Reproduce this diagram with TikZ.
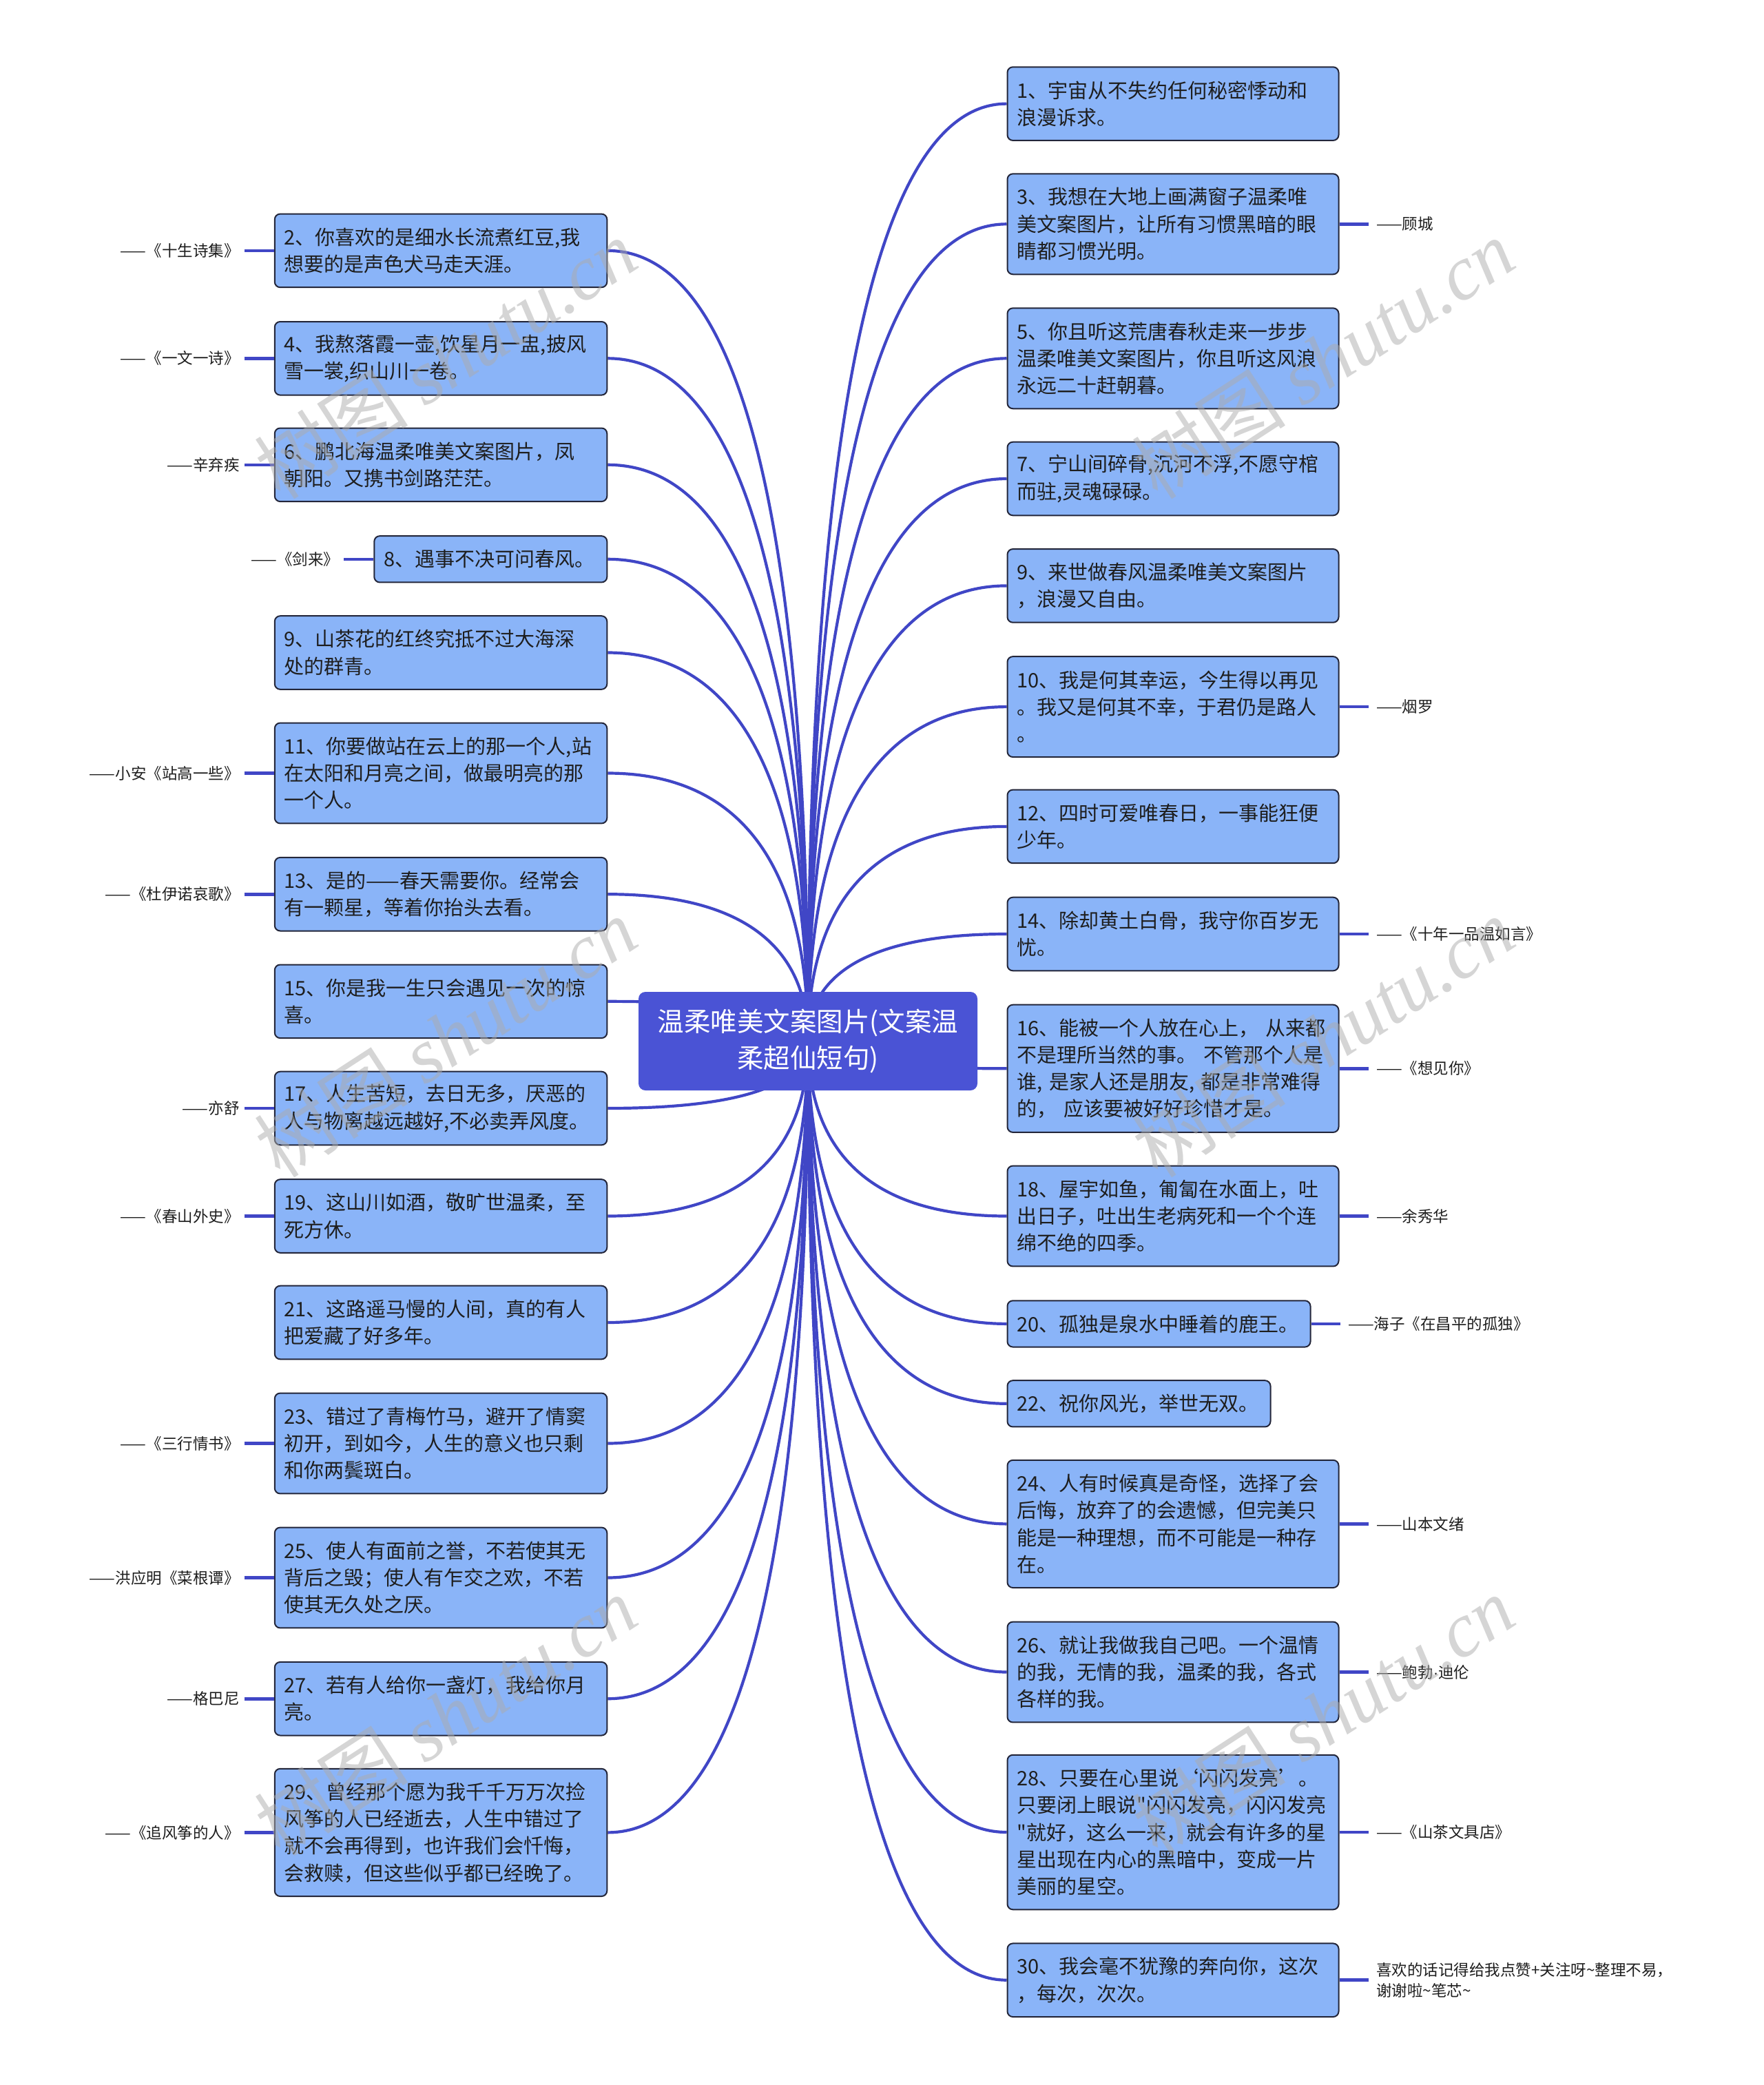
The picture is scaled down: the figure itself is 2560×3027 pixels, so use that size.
\documentclass[tikz,border=0pt]{standalone}
\usepackage{fontspec}
\setmainfont{Noto Sans CJK SC}[Ligatures=TeXOff]
\newfontfamily\wmlatin{Liberation Serif}
\newfontfamily\latinsans{Liberation Sans}
\usetikzlibrary{calc}
\definecolor{boxfill}{RGB}{138,180,248}
\definecolor{boxline}{RGB}{35,38,58}
\definecolor{rootfill}{RGB}{74,83,213}
\definecolor{connc}{RGB}{64,70,198}
\definecolor{txt}{RGB}{30,30,30}
\pgfdeclarelayer{back}
\pgfdeclarelayer{bg}
\pgfsetlayers{back,bg,main}
\tikzset{
  bx/.style={draw=boxline, line width=2pt, fill=boxfill, rounded corners=8pt,
    inner xsep=14pt, inner ysep=0pt, align=left, text=txt,
    font=\fontsize{29}{39.3}\selectfont},
  rootbox/.style={fill=rootfill, draw=none, rounded corners=10pt, text=white,
    align=center, font=\fontsize{38.5}{53}\selectfont,
    minimum width=492pt, minimum height=143pt, inner sep=0pt},
  labtxt/.style={inner sep=0pt, text=txt, font=\fontsize{22.5}{30}\selectfont, align=left},
  conn/.style={draw=connc, line width=4.2pt},
  labl/.style={draw=connc, line width=4.6pt},
  wm/.style={text=gray!65, opacity=0.5, inner sep=0pt, rotate=33,
    font=\fontsize{112}{112}\selectfont}
}
\newcommand\RB[5]{\node[bx,anchor=west,text width=#3pt,minimum height={28+39.3*#4}] (#1) at (1461.5,-#2) {#5};}
\newcommand\LB[5]{\node[bx,anchor=east,text width=#3pt,minimum height={28+39.3*#4}] (#1) at (882.3,-#2) {#5};}
\newcommand\RC[1]{\draw[conn] let \p1=(root.center),\p2=(#1.west) in (\p1) .. controls (\x1,{0.5*(\y1+\y2)}) and ({\x1+0.2*(\x2-\x1)},\y2) .. (\p2);}
\newcommand\LC[1]{\draw[conn] let \p1=(root.center),\p2=(#1.east) in (\p1) .. controls (\x1,{0.5*(\y1+\y2)}) and ({\x1+0.2*(\x2-\x1)},\y2) .. (\p2);}
\newcommand\RL[3]{\node[labtxt,anchor=west] (#2) at ([xshift=53.5pt]#1.east) {#3};
  \draw[labl,shorten >=11pt] (#1.east) -- (#2.west);}
\newcommand\LL[3]{\node[labtxt,anchor=east] (#2) at ([xshift=-50pt]#1.west) {#3};
  \draw[labl,shorten <=7pt] (#2.east) -- (#1.west);}
\begin{document}
\begin{tikzpicture}[x=1pt,y=1pt]
\useasboundingbox (0,0) rectangle (2560,-3027);
\begin{pgfonlayer}{back}
\fill[white] (0,0) rectangle (2560,-3027);
\end{pgfonlayer}

\node[rootbox] (root) at (1173,-1511.5) {温柔唯美文案图片(文案温\\柔超仙短句)};

% right boxes
\RB{r1}{150.6}{453}{2}{1、宇宙从不失约任何秘密悸动和\\浪漫诉求。}
\RB{r3}{325.3}{453}{3}{3、我想在大地上画满窗子温柔唯\\美文案图片，让所有习惯黑暗的眼\\睛都习惯光明。}
\RB{r5}{520.3}{453}{3}{5、你且听这荒唐春秋走来一步步\\温柔唯美文案图片，你且听这风浪\\永远二十赶朝暮。}
\RB{r7}{695}{453}{2}{7、宁山间碎骨,沉河不浮,不愿守棺\\而驻,灵魂碌碌。}
\RB{r9}{850.4}{453}{2}{9、来世做春风温柔唯美文案图片\\，浪漫又自由。}
\RB{r10}{1026.1}{453}{3}{10、我是何其幸运，今生得以再见\\。我又是何其不幸，于君仍是路人\\。}
\RB{r12}{1199.9}{453}{2}{12、四时可爱唯春日，一事能狂便\\少年。}
\RB{r14}{1356}{453}{2}{14、除却黄土白骨，我守你百岁无\\忧。}
\RB{r16}{1551.3}{453}{4}{16、能被一个人放在心上，~从来都\\不是理所当然的事。~不管那个人是\\谁,~是家人还是朋友,~都是非常难得\\的，~应该要被好好珍惜才是。}
\RB{r18}{1765.5}{453}{3}{18、屋宇如鱼，匍匐在水面上，吐\\出日子，吐出生老病死和一个个连\\绵不绝的四季。}
\RB{r20}{1921.9}{412}{1}{20、孤独是泉水中睡着的鹿王。}
\RB{r22}{2037.8}{354}{1}{22、祝你风光，举世无双。}
\RB{r24}{2212.4}{453}{4}{24、人有时候真是奇怪，选择了会\\后悔，放弃了的会遗憾，但完美只\\能是一种理想，而不可能是一种存\\在。}
\RB{r26}{2427.5}{453}{3}{26、就让我做我自己吧。一个温情\\的我，无情的我，温柔的我，各式\\各样的我。}
\RB{r28}{2660}{453}{5}{28、只要在心里说‘闪闪发亮’。\\只要闭上眼说"闪闪发亮，闪闪发亮\\"就好，这么一来，就会有许多的星\\星出现在内心的黑暗中，变成一片\\美丽的星空。}
\RB{r30}{2874.7}{453}{2}{30、我会毫不犹豫的奔向你，这次\\，每次，次次。}

% left boxes
\LB{l2}{363.9}{454.5}{2}{2、你喜欢的是细水长流煮红豆,我\\想要的是声色犬马走天涯。}
\LB{l4}{520.3}{454.5}{2}{4、我熬落霞一壶,饮星月一盅,披风\\雪一裳,织山川一卷。}
\LB{l6}{674.8}{454.5}{2}{6、鹏北海温柔唯美文案图片，凤\\朝阳。又携书剑路茫茫。}
\LB{l8}{811.8}{310}{1}{8、遇事不决可问春风。}
\LB{l9}{947.5}{454.5}{2}{9、山茶花的红终究抵不过大海深\\处的群青。}
\LB{l11}{1122.5}{454.5}{3}{11、你要做站在云上的那一个人,站\\在太阳和月亮之间，做最明亮的那\\一个人。}
\LB{l13}{1298.2}{454.5}{2}{13、是的——春天需要你。经常会\\有一颗星，等着你抬头去看。}
\LB{l15}{1453.8}{454.5}{2}{15、你是我一生只会遇见一次的惊\\喜。}
\LB{l17}{1609}{454.5}{2}{17、人生苦短，去日无多，厌恶的\\人与物离越远越好,不必卖弄风度。}
\LB{l19}{1765.5}{454.5}{2}{19、这山川如酒，敬旷世温柔，至\\死方休。}
\LB{l21}{1920}{454.5}{2}{21、这路遥马慢的人间，真的有人\\把爱藏了好多年。}
\LB{l23}{2095.5}{454.5}{3}{23、错过了青梅竹马，避开了情窦\\初开，到如今，人生的意义也只剩\\和你两鬓斑白。}
\LB{l25}{2290.5}{454.5}{3}{25、使人有面前之誉，不若使其无\\背后之毁；使人有乍交之欢，不若\\使其无久处之厌。}
\LB{l27}{2466.2}{454.5}{2}{27、若有人给你一盏灯，我给你月\\亮。}
\LB{l29}{2660.4}{454.5}{4}{29、曾经那个愿为我千千万万次捡\\风筝的人已经逝去，人生中错过了\\就不会再得到，也许我们会忏悔，\\会救赎，但这些似乎都已经晚了。}

% connectors
\begin{pgfonlayer}{bg}
\RC{r1}\RC{r3}\RC{r5}\RC{r7}\RC{r9}\RC{r10}\RC{r12}\RC{r14}
\RC{r16}\RC{r18}\RC{r20}\RC{r22}\RC{r24}\RC{r26}\RC{r28}\RC{r30}
\LC{l2}\LC{l4}\LC{l6}\LC{l8}\LC{l9}\LC{l11}\LC{l13}\LC{l15}
\LC{l17}\LC{l19}\LC{l21}\LC{l23}\LC{l25}\LC{l27}\LC{l29}
\end{pgfonlayer}

% labels right
\RL{r3}{t3}{——顾城}
\RL{r10}{t10}{——烟罗}
\RL{r14}{t14}{——《十年一品温如言》}
\RL{r16}{t16}{——《想见你》}
\RL{r18}{t18}{——余秀华}
\RL{r20}{t20}{——海子《在昌平的孤独》}
\RL{r24}{t24}{——山本文绪}
\RL{r26}{t26}{——鲍勃{\latinsans ·}迪伦}
\RL{r28}{t28}{——《山茶文具店》}
\RL{r30}{t30}{喜欢的话记得给我点赞+关注呀\textasciitilde 整理不易，\\谢谢啦\textasciitilde 笔芯\textasciitilde}

% labels left
\LL{l2}{s2}{——《十生诗集》}
\LL{l4}{s4}{——《一文一诗》}
\LL{l6}{s6}{——辛弃疾}
\LL{l8}{s8}{——《剑来》}
\LL{l11}{s11}{——小安《站高一些》}
\LL{l13}{s13}{——《杜伊诺哀歌》}
\LL{l17}{s17}{——亦舒}
\LL{l19}{s19}{——《春山外史》}
\LL{l23}{s23}{——《三行情书》}
\LL{l25}{s25}{——洪应明《菜根谭》}
\LL{l27}{s27}{——格巴尼}
\LL{l29}{s29}{——《追风筝的人》}

% watermarks
\node[wm] (w1) at (647,-521) {树图 {\wmlatin\itshape shutu.cn}};
\node[wm] (w2) at (1921,-521) {树图 {\wmlatin\itshape shutu.cn}};
\node[wm] (w3) at (647,-1506) {树图 {\wmlatin\itshape shutu.cn}};
\node[wm] (w4) at (1921,-1506) {树图 {\wmlatin\itshape shutu.cn}};
\node[wm] (w5) at (647,-2491) {树图 {\wmlatin\itshape shutu.cn}};
\node[wm] (w6) at (1921,-2491) {树图 {\wmlatin\itshape shutu.cn}};
\end{tikzpicture}
\end{document}
